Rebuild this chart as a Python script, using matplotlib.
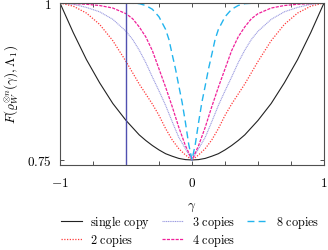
import matplotlib
matplotlib.use('Agg')
import matplotlib.pyplot as plt
import numpy as np

plt.rcParams['mathtext.fontset'] = 'cm'
plt.rcParams['font.family'] = 'serif'

# values (right half, curves are symmetric in gamma)
gamma_single = [0, 0.05, 0.1, 0.15, 0.2, 0.25, 0.3, 0.35, 0.4, 0.5, 0.6, 0.7, 0.8, 0.9, 1.0]
F_single = [0.75, 0.7506, 0.7525, 0.756, 0.760, 0.766, 0.773, 0.781, 0.790, 0.813, 0.840, 0.873, 0.910, 0.953, 1.0]

gamma_2 = [0, 0.05, 0.1, 0.15, 0.2, 0.25, 0.3, 0.35, 0.4, 0.45, 0.5, 0.6, 0.7, 0.8, 0.9, 1.0]
F_2 = [0.75, 0.758, 0.768, 0.782, 0.800, 0.821, 0.839, 0.855, 0.871, 0.889, 0.907, 0.940, 0.966, 0.984, 0.995, 1.0]

gamma_3 = [0, 0.05, 0.1, 0.15, 0.2, 0.25, 0.3, 0.35, 0.4, 0.45, 0.5, 0.6, 0.7, 0.8, 0.9, 1.0]
F_3 = [0.75, 0.768, 0.786, 0.811, 0.837, 0.860, 0.882, 0.905, 0.925, 0.942, 0.955, 0.974, 0.986, 0.993, 0.998, 1.0]

gamma_4 = [0, 0.05, 0.1, 0.15, 0.2, 0.25, 0.3, 0.35, 0.4, 0.45, 0.5, 0.6, 0.7, 0.8, 0.9, 1.0]
F_4 = [0.75, 0.773, 0.802, 0.835, 0.866, 0.895, 0.924, 0.946, 0.962, 0.975, 0.983, 0.992, 0.996, 0.998, 0.999, 1.0]

gamma_8 = [0, 0.025, 0.05, 0.075, 0.1, 0.125, 0.15, 0.175, 0.2, 0.25, 0.3, 0.35, 0.4, 0.5, 0.7, 1.0]
F_8 = [0.75, 0.775, 0.81, 0.842, 0.868, 0.895, 0.918, 0.942, 0.958, 0.978, 0.99, 0.996, 0.999, 1.0, 1.0, 1.0]

gamma_marker = -0.5
labels = ['single copy', '2 copies', '3 copies', '4 copies', '8 copies']


def mirror(g, f):
    g = np.array(g)
    f = np.array(f)
    return np.concatenate([-g[::-1], g[1:]]), np.concatenate([f[::-1], f[1:]])


fig = plt.figure(figsize=(3.28, 2.51), dpi=100)
ax = fig.add_axes([60/328, 85/251, 264/328, 162/251])

series = [(gamma_single, F_single), (gamma_2, F_2), (gamma_3, F_3), (gamma_4, F_4), (gamma_8, F_8)]
colors = ['#222222', '#ff3b3b', '#9a9ae0', '#f0209a', '#22b4ee']
styles = ['-', (0, (1, 1.2)), (0, (1, 0.6)), (0, (2.5, 1)), (0, (5, 3))]
widths = [0.8, 0.9, 0.8, 0.9, 1.0]

for (g, f), c, ls, lw, lab in zip(series, colors, styles, widths, labels):
    x, y = mirror(g, f)
    ax.plot(x, y, color=c, ls=ls, lw=lw, label=r'$\mathrm{' + lab.replace(' ', r'\ ') + '}$')

ax.axvline(gamma_marker, color='#5050b0', lw=1.0)

ax.set_xlim(-1, 1)
ax.set_ylim(0.742, 1.0)
xt = np.arange(-1, 1.01, 0.25)
ax.set_xticks(xt)
ax.set_xticklabels([r'$-1$' if v == -1 else r'$0$' if v == 0 else r'$1$' if v == 1 else '' for v in xt])
ax.set_yticks([0.75, 1.0])
ax.set_yticklabels([r'$0.75$', r'$1$'])
ax.tick_params(direction='in', top=True, right=True, length=3, width=0.7, color='#505050', labelsize=9.5)
ax.tick_params(axis='x', pad=8)
ax.tick_params(axis='y', pad=6)
for s in ax.spines.values():
    s.set_color('#505050')
    s.set_linewidth(0.8)

ax.set_xlabel(r'$\gamma$', fontsize=9.5, labelpad=8)
ax.set_ylabel(r'$F(\varrho_W^{\otimes n}(\gamma),\Lambda_1)$', fontsize=9.5, labelpad=4)

fig.legend(loc='lower center', bbox_to_anchor=(0.58, -0.035), ncol=3, frameon=False, fontsize=8.8,
           handlelength=1.7, columnspacing=1.0, labelspacing=0.15, handletextpad=0.7)

fig.savefig('out.png', dpi=100)
